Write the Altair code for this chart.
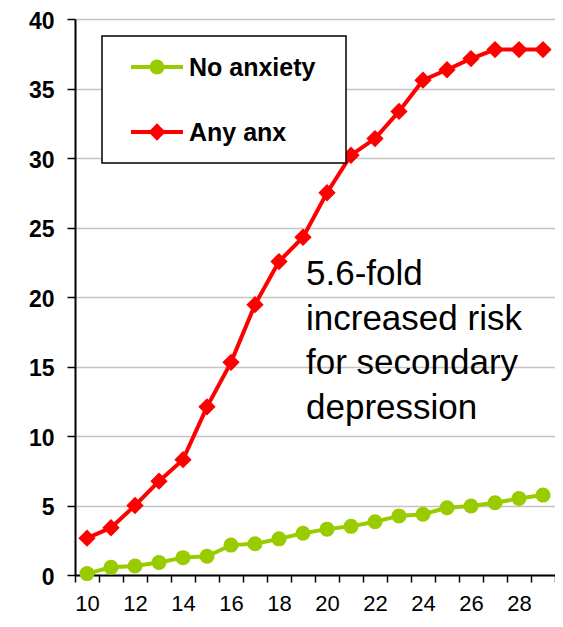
import altair as alt
import pandas as pd

ages = list(range(10, 30))
no_anxiety = [0.1, 0.55, 0.65, 0.9, 1.25, 1.35, 2.15, 2.25, 2.6, 3.0,
              3.3, 3.5, 3.83, 4.25, 4.37, 4.84, 4.96, 5.2, 5.5, 5.75]
any_anx = [2.65, 3.4, 5.0, 6.75, 8.3, 12.1, 15.3, 19.45, 22.55, 24.3,
           27.5, 30.2, 31.4, 33.35, 35.6, 36.35, 37.15, 37.8, 37.8, 37.8]
series = ["No anxiety", "Any anx"]
colors = ["#99CC00", "#FF0000"]
shapes = ["circle", "diamond"]
annotation = ["5.6-fold", "increased risk", "for secondary", "depression"]

rows = []
for a, v in zip(ages, no_anxiety):
    rows.append({"age": a, "value": v, "series": series[0]})
for a, v in zip(ages, any_anx):
    rows.append({"age": a, "value": v, "series": series[1]})
df = pd.DataFrame(rows)

FONT = "Liberation Sans"

x_enc = alt.X("age:O",
              scale=alt.Scale(type="band", paddingInner=0, paddingOuter=0),
              axis=alt.Axis(title=None, labelAngle=0, tickBand="extent",
                            labelExpr="datum.value % 2 == 0 ? datum.label : ''",
                            labelFont=FONT, labelFontSize=22, labelColor="black",
                            labelPadding=11, tickSize=7, tickColor="black", tickWidth=1.5,
                            domainColor="black", domainWidth=2, grid=False))
y_enc = alt.Y("value:Q",
              scale=alt.Scale(domain=[0, 40], nice=False, zero=True),
              axis=alt.Axis(title=None, values=list(range(0, 41, 5)),
                            labelFont=FONT, labelFontSize=23, labelFontWeight="bold",
                            labelColor="black", labelPadding=13, labelOffset=2, tickSize=8,
                            tickColor="black", tickWidth=1.5, domainColor="black",
                            domainWidth=2, grid=True, gridColor="#C4C4C4", gridWidth=1.5))
color_enc = alt.Color("series:N", scale=alt.Scale(domain=series, range=colors), legend=None)

base = alt.Chart(df)
lines = base.mark_line(strokeWidth=4).encode(x=x_enc, y=y_enc, color=color_enc,
                                              detail="series:N")
pts_green = base.transform_filter(alt.datum.series == series[0]).mark_point(
    filled=True, opacity=1, size=225, shape="circle", color=colors[0]).encode(x=x_enc, y=y_enc)
pts_red = base.transform_filter(alt.datum.series == series[1]).mark_point(
    filled=True, opacity=1, size=300, shape="diamond", color=colors[1]).encode(x=x_enc, y=y_enc)

one = pd.DataFrame({"k": [0]})
legend_box = alt.Chart(one).mark_rect(fill="white", stroke="black", strokeWidth=1.5).encode(
    x=alt.value(27), x2=alt.value(271), y=alt.value(17), y2=alt.value(144))
leg_line1 = alt.Chart(one).mark_rule(color=colors[0], strokeWidth=4).encode(
    x=alt.value(56), x2=alt.value(108), y=alt.value(48))
leg_line2 = alt.Chart(one).mark_rule(color=colors[1], strokeWidth=4).encode(
    x=alt.value(56), x2=alt.value(108), y=alt.value(113))
leg_pt1 = alt.Chart(one).mark_point(filled=True, opacity=1, size=225, shape="circle",
                                    color=colors[0]).encode(x=alt.value(82), y=alt.value(48))
leg_pt2 = alt.Chart(one).mark_point(filled=True, opacity=1, size=300, shape="diamond",
                                    color=colors[1]).encode(x=alt.value(82), y=alt.value(113))
leg_txt1 = alt.Chart(one).mark_text(text=series[0], font=FONT, fontSize=25, fontWeight="bold",
                                    align="left", baseline="middle", color="black").encode(
    x=alt.value(114), y=alt.value(49))
leg_txt2 = alt.Chart(one).mark_text(text=series[1], font=FONT, fontSize=25, fontWeight="bold",
                                    align="left", baseline="middle", color="black").encode(
    x=alt.value(114), y=alt.value(114))
note = alt.Chart(one).mark_text(text=annotation, font=FONT, fontSize=35, lineHeight=44.5,
                                align="left", baseline="alphabetic", color="black").encode(
    x=alt.value(231), y=alt.value(266))

chart = alt.layer(lines, pts_green, pts_red, legend_box, leg_line1, leg_line2, leg_pt1, leg_pt2,
                  leg_txt1, leg_txt2, note).properties(
    width=480, height=556,
    autosize=alt.AutoSizeParams(type="none"),
    padding={"left": 67, "top": 11, "right": 0, "bottom": 39},
    background="white",
).configure_view(stroke=None)

chart.save("out.html", embed_options={"renderer": "svg", "actions": False})
